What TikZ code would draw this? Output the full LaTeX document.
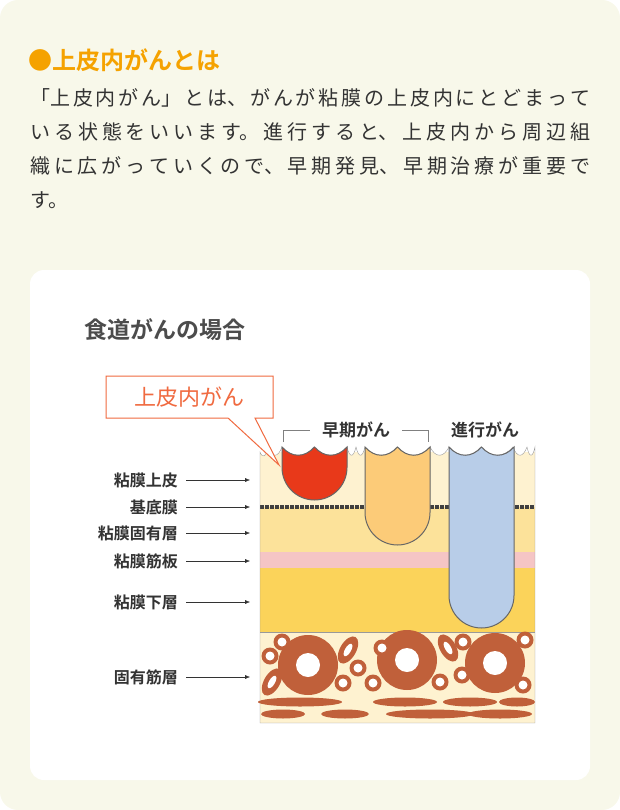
\documentclass[tikz,border=0pt]{standalone}
\usepackage{fontspec}
\newfontfamily\jpfont{Noto Sans CJK JP}
\newfontfamily\jpbold{Noto Sans CJK JP Bold}
\usetikzlibrary{positioning,arrows.meta}
\definecolor{pagebg}{HTML}{F8F8EA}
\definecolor{headorange}{HTML}{F5A200}
\definecolor{bodygray}{HTML}{333333}
\definecolor{calloutred}{HTML}{F06A40}
\definecolor{epicream}{HTML}{FEF2D0}
\definecolor{laminayellow}{HTML}{FCE29A}
\definecolor{mmpink}{HTML}{F5C5C5}
\definecolor{submucosa}{HTML}{FBD35A}
\definecolor{musclebrown}{HTML}{C0603A}
\definecolor{tumorred}{HTML}{E8391A}
\definecolor{tumororange}{HTML}{FCCB78}
\definecolor{tumorblue}{HTML}{B8CDE8}
\XeTeXlinebreaklocale "ja"
\XeTeXlinebreakskip=0pt plus 3pt
\tikzset{
  bodyline/.style={anchor=west,inner sep=0pt,text=bodygray,font=\jpfont\fontsize{20}{34}\selectfont},
  layerlabel/.style={anchor=east,inner sep=0pt,text=bodygray,font=\jpbold\fontsize{16}{16}\selectfont},
  tumorlabel/.style={text=bodygray,font=\jpbold\fontsize{17}{17}\selectfont},
  tumor/.style={draw=black!60,line width=1pt},
}
\begin{document}
\begin{tikzpicture}[x=1pt,y=-1pt]
	\useasboundingbox (0,0) rectangle (620,810);
	\fill[pagebg,rounded corners=18] (0,0) rectangle (620,810);
	\fill[white,rounded corners=14] (30,270) rectangle (590,780);
	% heading and text
	\node[bodyline,text=headorange,font=\jpbold\fontsize{24}{24}\selectfont] (head) at (28,60) {●上皮内がんとは};
	\node[bodyline,anchor=north west,text width=560pt,align=justify] (para) at (30,88)
	  {「上皮内がん」とは、がんが粘膜の上皮内にとどまって\linebreak
	   いる状態をいいます。進行すると、上皮内から周辺組\linebreak
	   織に広がっていくので、早期発見、早期治療が重要で\linebreak
	   す。};
	\node[bodyline,text=black!70,font=\jpbold\fontsize{23}{23}\selectfont] (title) at (84,330) {食道がんの場合};
	% layers
	\fill[epicream] (260,452) -- (260,723) -- (535,723) -- (535,452) -- cycle;
	\fill[laminayellow] (260,507) rectangle (535,552);
	\fill[mmpink] (260,552) rectangle (535,568);
	\fill[submucosa] (260,568) rectangle (535,632);
	\draw[black!75,line width=3.5pt,dash pattern=on 3.5pt off 1.5pt] (260,507) -- (535,507);
	\fill[white] (258,440) -- (260,452)
	  foreach \a/\b in {260/268,268/282,282/314,314/347,347/356,356/365,365/397,397/430,430/449,449/481,481/513,513/527,527/535}
	  { .. controls ({\a+(\b-\a)*0.3},458) and ({\b-(\b-\a)*0.3},458) .. (\b,447) } -- (537,447) -- (537,440) -- cycle;
	\draw[black!40] (260,452)
	  foreach \a/\b in {260/268,268/282,282/314,314/347,347/356,356/365,365/397,397/430,430/449,449/481,481/513,513/527,527/535}
	  { .. controls ({\a+(\b-\a)*0.3},458) and ({\b-(\b-\a)*0.3},458) .. (\b,447) } -- (535,723) -- (260,723) -- cycle;
	\draw[black!40] (260,632) -- (535,632);
	% tumors
	\foreach \l/\c/\bot in {282/tumorred/500,365/tumororange/545,449/tumorblue/628}{
	  \draw[tumor,fill=\c] (\l,447)
	    .. controls ({\l+9.7},458) and ({\l+22.7},458) .. ({\l+32.5},447)
	    .. controls ({\l+42.2},458) and ({\l+55.2},458) .. ({\l+65},447)
	    -- ({\l+65},{\bot-32.5}) arc[start angle=0,end angle=180,radius=32.5] -- cycle;
	}
	% muscle layer
	\foreach \x/\y in {308/665,407/660,495/663}{
	  \fill[musclebrown] (\x,\y) circle (30);
	  \fill[white] (\x,\y) circle (12);
	}
	\foreach \x/\y in {282/642,270/656,382/648,358/668,343/683,373/683,463/642,462/675,440/682,525/640,523/685}{
	  \fill[musclebrown] (\x,\y) circle (8.5);
	  \fill[white] (\x,\y) circle (4.5);
	}
	\foreach \x/\y/\r in {348/650/60,272/682/60,448/648/-60}{
	  \fill[musclebrown,rotate around={\r:(\x,\y)}] (\x,\y) ellipse [x radius=15,y radius=8];
	  \fill[white,rotate around={\r:(\x,\y)}] (\x,\y) ellipse [x radius=7,y radius=3];
	}
	\foreach \x/\w in {300/42,405/32,470/27,517/18}
	  \fill[musclebrown] (\x,702) ellipse [x radius=\w,y radius=4.5];
	\foreach \x/\w in {283/22,345/24,430/44,500/32}
	  \fill[musclebrown] (\x,714) ellipse [x radius=\w,y radius=4.5];
	% callout
	\draw[calloutred,fill=white,line width=1pt] (106,376) -- (273,376) -- (273,418) -- (255,418) -- (279,465) -- (228,418) -- (106,418) -- cycle;
	\node[text=calloutred,font=\jpfont\fontsize{22}{22}\selectfont] (callout) at (189,397) {上皮内がん};
	% tumor labels
	\draw[black!50,line width=1pt] (283,442) -- (283,430) -- (310,430) (402,430) -- (428,430) -- (428,442);
	\node[tumorlabel] (early) at (356,430) {早期がん};
	\node[tumorlabel] (advanced) at (485,430) {進行がん};
	% layer labels
	\foreach \name/\txt/\y in {epi/粘膜上皮/480,base/基底膜/507,lamina/粘膜固有層/533,mm/粘膜筋板/561,sub/粘膜下層/602,mp/固有筋層/677}{
	  \node[layerlabel] (\name) at (178,\y) {\txt};
	  \coordinate (\name end) at (250,\y);
	  \draw[black!80,-{Latex[length=5pt,width=4pt]}] ([xshift=8pt]\name.east) -- (\name end);
	}
\end{tikzpicture}
\end{document}
